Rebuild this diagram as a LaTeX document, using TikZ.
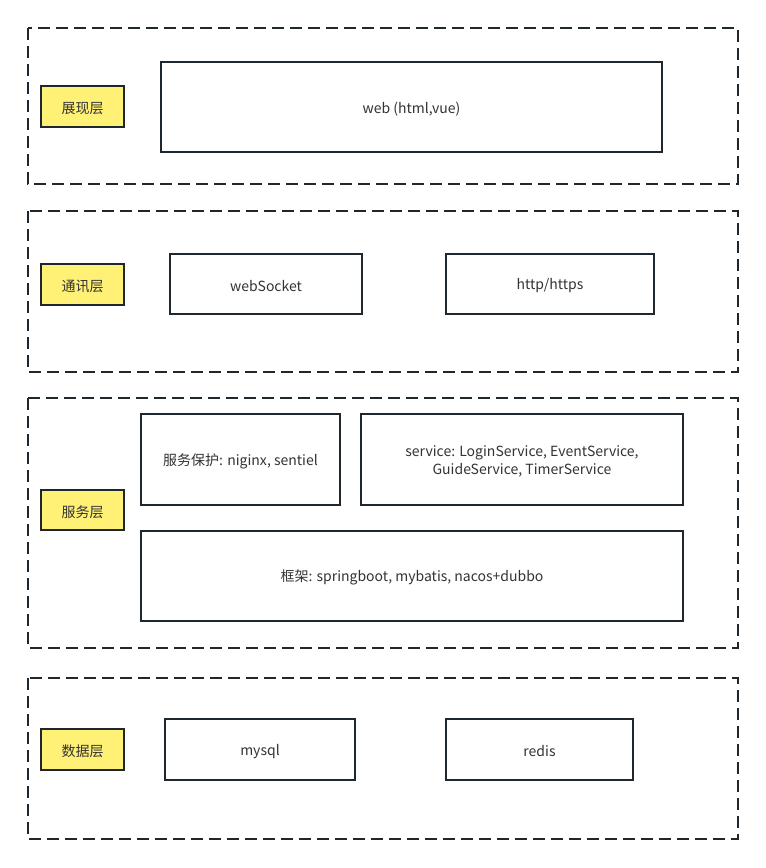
\documentclass[tikz,border=0pt]{standalone}
\usepackage{fontspec}
\setmainfont{Noto Sans CJK SC}
\definecolor{edge}{HTML}{1F272E}
\definecolor{lab}{HTML}{FFF176}
\definecolor{txt}{HTML}{333333}
\begin{document}
\begin{tikzpicture}[x=0.75pt,y=-0.75pt,
  layer/.style={draw=edge,line width=1.5pt,dash pattern=on 9pt off 4.5pt},
  labbox/.style={draw=edge,fill=lab,line width=1.5pt},
  compbox/.style={draw=edge,fill=white,line width=1.5pt},
  lbl/.style={font=\fontsize{10.5pt}{13pt}\selectfont,text=txt,align=center,yshift=-1.3pt}]
\useasboundingbox (0,0) rectangle (766,868);
% layers
\draw[layer] (28,28) rectangle (738,184);
\draw[layer] (28,211) rectangle (738,372);
\draw[layer] (28,398) rectangle (738,648);
\draw[layer] (28,678) rectangle (738,839);
% layer labels
\draw[labbox] (41,86) rectangle (124,127);
\node[lbl] (l1) at (82.5,106.5) {展现层};
\draw[labbox] (41,264) rectangle (124,305);
\node[lbl] (l2) at (82.5,284.5) {通讯层};
\draw[labbox] (41,490) rectangle (124,530);
\node[lbl] (l3) at (82.5,510) {服务层};
\draw[labbox] (41,729) rectangle (124,770);
\node[lbl] (l4) at (82.5,749.5) {数据层};
% components
\draw[compbox] (161,62) rectangle (662,152);
\node[lbl] (web) at (411.5,107) {web (html,vue)};
\draw[compbox] (170,254) rectangle (362,314);
\node[lbl] (ws) at (266,284) {webSocket};
\draw[compbox] (446,254) rectangle (654,314);
\node[lbl] (http) at (550,284) {http/https};
\draw[compbox] (141,414) rectangle (340,505);
\node[lbl] (prot) at (240.5,459.5) {服务保护: niginx, sentiel};
\draw[compbox] (361,414) rectangle (683,505);
\node[lbl] (svc) at (522,459.5) {service: LoginService, EventService,\\GuideService, TimerService};
\draw[compbox] (141,531) rectangle (683,621);
\node[lbl] (fw) at (412,576) {框架: springboot, mybatis, nacos+dubbo};
\draw[compbox] (165,719) rectangle (355,780);
\node[lbl] (mysql) at (260,749.5) {mysql};
\draw[compbox] (446,719) rectangle (633,780);
\node[lbl] (redis) at (539.5,749.5) {redis};
\end{tikzpicture}
\end{document}
